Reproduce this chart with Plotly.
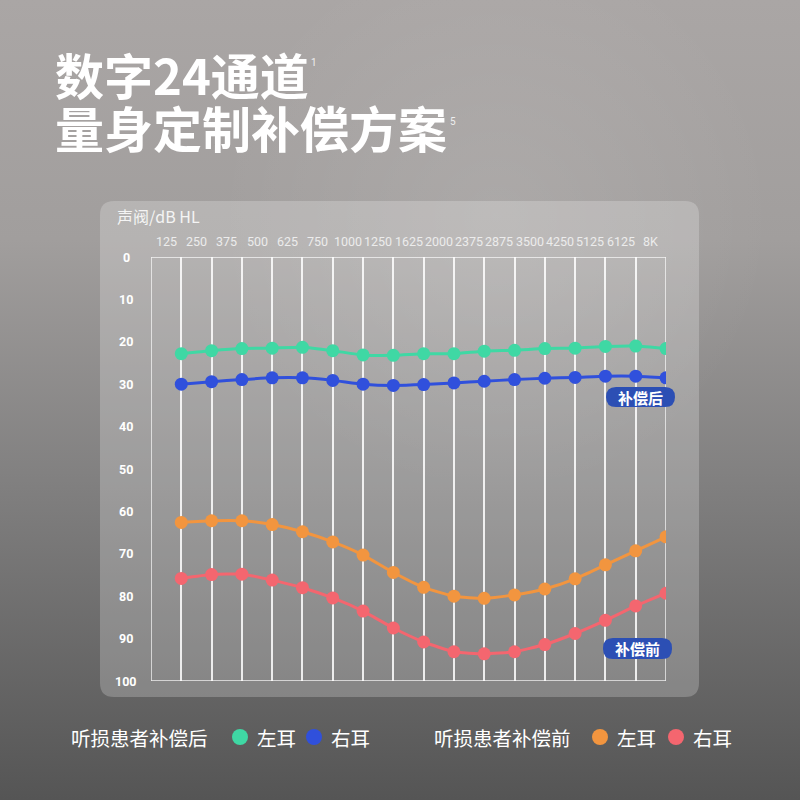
import base64
import plotly.graph_objects as go

# frequency labels along the top of the audiogram
freq_labels = ["125", "250", "375", "500", "625", "750", "1000", "1250", "1625",
               "2000", "2375", "2875", "3500", "4250", "5125", "6125", "8K"]
y_ticks = [0, 10, 20, 30, 40, 50, 60, 70, 80, 90, 100]

# thresholds in dB HL
after_left = [22.8, 22.1, 21.6, 21.5, 21.3, 22.1, 23.1, 23.2, 22.8, 22.8,
              22.2, 22.0, 21.6, 21.5, 21.1, 21.0, 21.6]
after_right = [30.0, 29.4, 28.9, 28.5, 28.5, 29.1, 30.0, 30.3, 30.1, 29.7,
               29.3, 28.9, 28.6, 28.4, 28.1, 28.1, 28.5]
before_left = [62.6, 62.2, 62.2, 63.1, 64.8, 67.2, 70.3, 74.4, 77.9, 80.0,
               80.5, 79.7, 78.3, 75.9, 72.6, 69.3, 66.0]
before_right = [75.8, 74.9, 74.8, 76.2, 78.0, 80.4, 83.5, 87.5, 90.8, 93.1,
                93.6, 93.1, 91.4, 88.8, 85.7, 82.3, 79.3]

GREEN = "#3fd8a4"
BLUE = "#3050dc"
ORANGE = "#f2953f"
RED = "#f4666f"
BADGE = "#2c4fb4"
GRID = "rgba(255,255,255,0.85)"
CJK = "Noto Sans CJK SC"

W = H = 800


def px(x):
    return x / W


def py(y):
    return 1 - y / H


def rounded_rect(x0, y0, x1, y1, r):
    # pixel box -> paper path with rounded corners
    X0, X1 = px(x0), px(x1)
    Y0, Y1 = py(y1), py(y0)
    R = r / W
    return (f"M{X0 + R},{Y0} L{X1 - R},{Y0} Q{X1},{Y0} {X1},{Y0 + R} "
            f"L{X1},{Y1 - R} Q{X1},{Y1} {X1 - R},{Y1} L{X0 + R},{Y1} "
            f"Q{X0},{Y1} {X0},{Y1 - R} L{X0},{Y0 + R} Q{X0},{Y0} {X0 + R},{Y0} Z")


def label(text, x, y, size, color="white", weight=400, family=CJK, xanchor="center", **kw):
    return dict(text=text, x=x, y=y, xref=kw.get("xref", "paper"), yref=kw.get("yref", "paper"),
                xanchor=xanchor, yanchor="middle", showarrow=False,
                font=dict(family=family, size=size, color=color, weight=weight))


# background gradient as an svg image
bg_svg = (
    '<svg xmlns="http://www.w3.org/2000/svg" width="800" height="800">'
    '<defs><linearGradient id="g" x1="0" y1="0" x2="0" y2="1">'
    '<stop offset="0" stop-color="#aaa6a5"/>'
    '<stop offset="0.3" stop-color="#a19e9d"/>'
    '<stop offset="0.6" stop-color="#818080"/>'
    '<stop offset="1" stop-color="#555555"/>'
    '</linearGradient>'
    '<radialGradient id="h" cx="0.62" cy="0.27" r="0.35">'
    '<stop offset="0" stop-color="#ffffff" stop-opacity="0.10"/>'
    '<stop offset="1" stop-color="#ffffff" stop-opacity="0"/>'
    '</radialGradient></defs>'
    '<rect width="800" height="800" fill="url(#g)"/>'
    '<rect width="800" height="800" fill="url(#h)"/>'
    '</svg>'
)
bg_src = "data:image/svg+xml;base64," + base64.b64encode(bg_svg.encode()).decode()

x_idx = list(range(len(freq_labels)))

fig = go.Figure()

for vals, color in [(after_left, GREEN), (after_right, BLUE),
                    (before_left, ORANGE), (before_right, RED)]:
    fig.add_trace(
        go.Scatter(
            x=x_idx,
            y=vals,
            mode="lines+markers",
            line=dict(color=color, width=3, shape="spline", smoothing=0.5),
            marker=dict(color=color, size=13),
            showlegend=False,
            hoverinfo="skip",
        )
    )

shapes = [
    # translucent card
    dict(type="path", path=rounded_rect(100, 201, 699, 697, 14), xref="paper", yref="paper",
         fillcolor="rgba(255,255,255,0.22)", line=dict(width=0), layer="below"),
    # plot frame
    dict(type="rect", xref="x", yref="y", x0=-1, x1=len(freq_labels) - 1, y0=0, y1=100,
         line=dict(color=GRID, width=1.5), layer="below"),
    # badges
    dict(type="path", path=rounded_rect(606, 387, 675, 407, 10), xref="paper", yref="paper",
         fillcolor=BADGE, line=dict(width=0)),
    dict(type="path", path=rounded_rect(603, 638, 672, 659, 10), xref="paper", yref="paper",
         fillcolor=BADGE, line=dict(width=0)),
]

annotations = [
    label("数字24通道", px(53), py(73), 49, weight=700, xanchor="left"),
    label("1", px(314), py(62), 10, color="#eeeeee", family="Roboto"),
    label("量身定制补偿方案", px(53), py(127), 49, weight=700, xanchor="left"),
    label("5", px(453), py(121), 10, color="#eeeeee", family="Roboto"),
    label("声阀/dB HL", px(115), py(216), 16, color="#f4f4f4", xanchor="left"),
    label("补偿后", px(640.5), py(397), 15, weight=700),
    label("补偿前", px(637.5), py(648.5), 15, weight=700),
]

# frequency labels sit half a column left of their line
for i, lab in enumerate(freq_labels):
    annotations.append(label(lab, i - 0.5, py(241), 12.5, color="#ececec",
                             family="Roboto", xref="x"))

for t in y_ticks:
    annotations.append(label(str(t), px(126), t, 12.5, weight=700,
                             family="Roboto", yref="y"))

# legend row
legend_items = [
    ("听损患者补偿后", 69, None),
    ("左耳", 255, GREEN),
    ("右耳", 329, BLUE),
    ("听损患者补偿前", 432, None),
    ("左耳", 615, ORANGE),
    ("右耳", 691, RED),
]
for text, x0, dot in legend_items:
    annotations.append(label(text, px(x0), py(737), 19.5, xanchor="left"))
    if dot:
        cx = x0 - 15
        shapes.append(
            dict(type="circle", xref="paper", yref="paper",
                 x0=px(cx - 8), x1=px(cx + 8), y0=py(745), y1=py(729),
                 fillcolor=dot, line=dict(width=0))
        )

fig.update_layout(
    width=W,
    height=H,
    margin=dict(l=0, r=0, t=0, b=0),
    paper_bgcolor="#8a8a8a",
    plot_bgcolor="rgba(0,0,0,0)",
    xaxis=dict(
        domain=[px(151), px(666)],
        range=[-1, 16],
        tickvals=x_idx,
        showticklabels=False,
        showgrid=True,
        gridcolor=GRID,
        gridwidth=1.5,
        zeroline=False,
        showline=False,
        ticks="",
        fixedrange=True,
    ),
    yaxis=dict(
        domain=[py(681), py(257)],
        range=[100, 0],
        showticklabels=False,
        showgrid=False,
        zeroline=False,
        showline=False,
        ticks="",
        fixedrange=True,
    ),
    images=[dict(source=bg_src, xref="paper", yref="paper", x=0, y=1,
                 sizex=1, sizey=1, xanchor="left", yanchor="top",
                 sizing="stretch", layer="below")],
    shapes=shapes,
    annotations=annotations,
)

fig.write_html("out.html", config={"displayModeBar": False},
               post_script="document.body.style.margin='0';")
